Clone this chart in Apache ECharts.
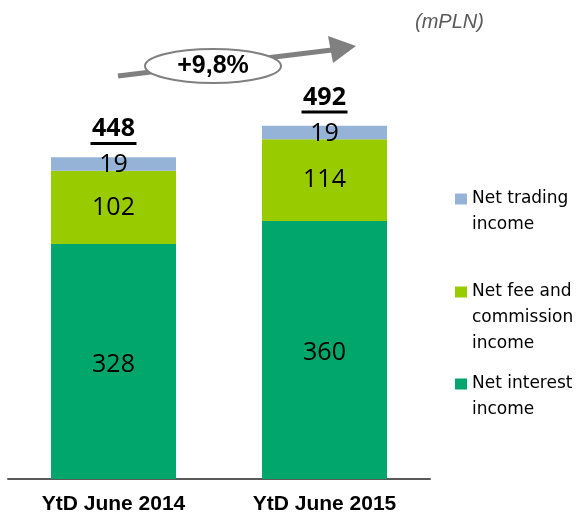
<!DOCTYPE html>
<html>
<head>
<meta charset="utf-8">
<script src="https://cdn.jsdelivr.net/npm/echarts@6/dist/echarts.min.js"></script>
<style>
  html, body { margin: 0; padding: 0; background: #fff; }
  #chart { width: 578px; height: 513px; }
</style>
</head>
<body>
<div id="chart"></div>
<script>
// data
const categories = ["YtD June 2014", "YtD June 2015"];
const netInterest = [328, 360];
const netFee = [102, 114];
const netTrading = [19, 19];
const totals = [448, 492];
const growthLabel = "+9,8%";

const COLORS = {
  interest: "#00A66C",
  fee: "#99CC00",
  trading: "#95B3D7",
  axis: "#595959",
  arrow: "#808080",
};

const chart = echarts.init(document.getElementById("chart"));

const segmentLabel = {
  show: true,
  position: "inside",
  color: "#000",
  fontFamily: "Open Sans",
  fontSize: 25,
};

// one legend per item; blank lines in front keep the square level with the first text line
const legendItem = (name, lines, top) => ({
  orient: "vertical",
  left: 455,
  top: top,
  padding: 0,
  icon: "rect",
  itemWidth: 12,
  itemHeight: 11,
  itemGap: 0,
  selectedMode: false,
  data: [name],
  formatter: () => Array(lines.length - 1).fill(" ").concat(lines).join("\n"),
  textStyle: {
    fontFamily: "DejaVu Sans",
    fontSize: 17,
    lineHeight: 26,
    color: "#000",
  },
});

const option = {
  animation: false,
  legend: [
    legendItem("Net trading income", ["Net trading", "income"], 160),
    legendItem("Net fee and commission income", ["Net fee and", "commission", "income"], 227),
    legendItem("Net interest income", ["Net interest", "income"], 345),
  ],
  grid: { left: 8, right: 148, top: 49, bottom: 34, outerBoundsMode: "none" },
  xAxis: {
    type: "category",
    data: categories,
    axisLine: { lineStyle: { color: COLORS.axis, width: 2 } },
    axisTick: { show: false },
    axisLabel: {
      color: "#000",
      fontFamily: "Liberation Sans",
      fontWeight: "bold",
      fontSize: 21,
      margin: 15,
    },
  },
  yAxis: {
    type: "value",
    min: 0,
    max: 600,
    show: false,
    splitLine: { show: false },
  },
  series: [
    {
      name: "Net interest income",
      type: "bar",
      stack: "total",
      barWidth: 125,
      itemStyle: { color: COLORS.interest },
      label: { ...segmentLabel, offset: [0, 3] },
      data: netInterest,
    },
    {
      name: "Net fee and commission income",
      type: "bar",
      stack: "total",
      itemStyle: { color: COLORS.fee },
      label: segmentLabel,
      data: netFee,
    },
    {
      name: "Net trading income",
      type: "bar",
      stack: "total",
      itemStyle: { color: COLORS.trading },
      label: { ...segmentLabel, offset: [0, 1] },
      data: netTrading,
    },
    {
      // underlined totals above each bar
      type: "custom",
      silent: true,
      data: totals.map((v, i) => [i, v]),
      renderItem(params, api) {
        const p = api.coord([api.value(0), api.value(1)]);
        const txt = String(api.value(1));
        return {
          type: "group",
          children: [
            {
              type: "text",
              style: {
                x: p[0],
                y: p[1] - 29,
                text: txt,
                fill: "#000",
                font: "bold 25px 'Open Sans'",
                align: "center",
                verticalAlign: "middle",
              },
            },
            {
              type: "rect",
              shape: { x: p[0] - 23, y: p[1] - 16, width: 46, height: 3 },
              style: { fill: "#000" },
            },
          ],
        };
      },
    },
  ],
  graphic: [
    {
      type: "text",
      left: 415,
      top: 12,
      style: {
        text: "(mPLN)",
        fill: "#595959",
        font: "italic 20px 'Liberation Sans'",
      },
    },
    {
      type: "line",
      shape: { x1: 118, y1: 76, x2: 332, y2: 50 },
      style: { stroke: COLORS.arrow, lineWidth: 5 },
    },
    {
      type: "polygon",
      shape: { points: [[328, 36], [356, 46], [333, 63]] },
      style: { fill: COLORS.arrow },
    },
    {
      type: "ellipse",
      shape: { cx: 213, cy: 66, rx: 68, ry: 17 },
      style: { fill: "#fff", stroke: COLORS.arrow, lineWidth: 2 },
    },
    {
      type: "text",
      x: 213,
      y: 66,
      style: {
        text: growthLabel,
        fill: "#000",
        font: "bold 25px 'Liberation Sans'",
        align: "center",
        verticalAlign: "middle",
      },
    },
  ],
};

chart.setOption(option);
</script>
</body>
</html>
